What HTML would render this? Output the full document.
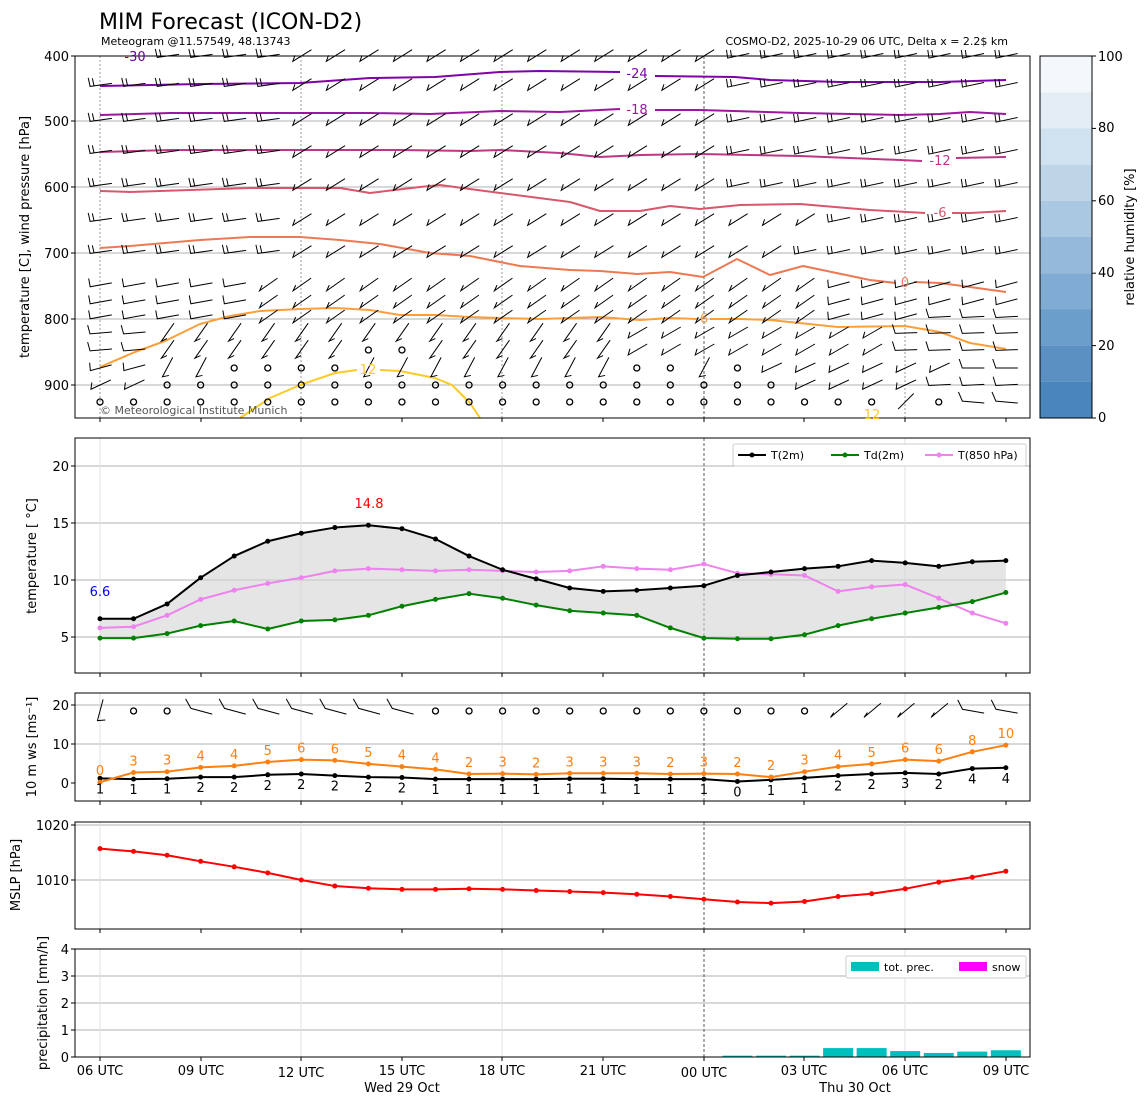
<!DOCTYPE html>
<html><head><meta charset="utf-8"><style>
body{margin:0;background:#fff}
svg{display:block;font-family:"DejaVu Sans","Liberation Sans",sans-serif}
</style></head><body>
<svg id="s" width="1148" height="1105" viewBox="0 0 1148 1105" xmlns="http://www.w3.org/2000/svg">
<rect width="1148" height="1105" fill="#fff"/>
<g id="grid"></g>
<g id="data"></g>
<g fill="none" stroke="#000" stroke-width="1">
<rect x="75" y="56" width="955" height="362"/>
<rect x="75" y="438" width="955" height="235"/>
<rect x="75" y="693" width="955" height="108"/>
<rect x="75" y="822" width="955" height="107"/>
<rect x="75" y="949" width="955" height="108"/>
</g>
<g id="ticks"></g>
<text x="99" y="29" font-size="22">MIM Forecast (ICON-D2)</text>
<text x="101" y="45" font-size="11">Meteogram @11.57549, 48.13743</text>
<text x="1008" y="45" font-size="11" text-anchor="end">COSMO-D2, 2025-10-29 06 UTC, Delta x = 2.2$ km</text>
<text x="100" y="414" font-size="11" fill="#555">© Meteorological Institute Munich</text>
<g font-size="13" text-anchor="end">
<text x="69" y="61">400</text><text x="69" y="126">500</text><text x="69" y="192">600</text><text x="69" y="258">700</text><text x="69" y="324">800</text><text x="69" y="390">900</text>
<text x="69" y="471">20</text><text x="69" y="528">15</text><text x="69" y="585">10</text><text x="69" y="642">5</text>
<text x="69" y="710">20</text><text x="69" y="749">10</text><text x="69" y="788">0</text>
<text x="69" y="830">1020</text><text x="69" y="885">1010</text>
<text x="69" y="954">4</text><text x="69" y="981">3</text><text x="69" y="1008">2</text><text x="69" y="1035">1</text><text x="69" y="1062">0</text>
</g>
<g font-size="13" text-anchor="middle">
<text x="100" y="1075">06 UTC</text><text x="201" y="1075">09 UTC</text><text x="301" y="1077">12 UTC</text><text x="402" y="1075">15 UTC</text><text x="502" y="1075">18 UTC</text><text x="603" y="1075">21 UTC</text><text x="704" y="1077">00 UTC</text><text x="804" y="1075">03 UTC</text><text x="905" y="1075">06 UTC</text><text x="1006" y="1075">09 UTC</text>
<text x="402" y="1092">Wed 29 Oct</text><text x="855" y="1092">Thu 30 Oct</text>
</g>
<g font-size="13" text-anchor="middle">
<text transform="translate(29,237) rotate(-90)">temperature [C], wind pressure [hPa]</text>
<text transform="translate(36,556) rotate(-90)">temperature [ °C]</text>
<text transform="translate(36,747) rotate(-90)">10 m ws [ms⁻¹]</text>
<text transform="translate(20,875) rotate(-90)">MSLP [hPa]</text>
<text transform="translate(47,1003) rotate(-90)">precipitation [mm/h]</text>
<text transform="translate(1134,237) rotate(-90)">relative humidity [%]</text>
</g>
<g id="cb"></g>
<g font-size="13">
<text x="1098" y="422">0</text><text x="1098" y="350">20</text><text x="1098" y="277">40</text><text x="1098" y="205">60</text><text x="1098" y="132">80</text><text x="1098" y="61">100</text>
</g>
<g font-size="13" text-anchor="middle">
<text x="135" y="61" fill="#6a00a8">-30</text>
<text x="637" y="78" fill="#7e03a8">-24</text>
<text x="637" y="114" fill="#9c179e">-18</text>
<text x="940" y="165" fill="#bd3786">-12</text>
<text x="940" y="217" fill="#d8576b">-6</text>
<text x="905" y="287" fill="#ed7953">0</text>
<text x="704" y="323" fill="#fb9f3a">6</text>
<text x="368" y="374" fill="#fdca26">12</text>
<text x="872" y="419" fill="#fdca26">12</text>
</g>
<text x="100" y="596" font-size="13" text-anchor="middle" fill="#00f">6.6</text>
<text x="369" y="508" font-size="13" text-anchor="middle" fill="#f00">14.8</text>
<rect x="733" y="444" width="293" height="22" fill="#fff" stroke="#ccc" rx="2"/>
<g font-size="11">
<line x1="738" y1="455" x2="766" y2="455" stroke="#000" stroke-width="2"/><circle cx="752" cy="455" r="2.5"/><text x="771" y="459">T(2m)</text>
<line x1="831" y1="455" x2="859" y2="455" stroke="#008000" stroke-width="2"/><circle cx="845" cy="455" r="2.5" fill="#008000"/><text x="864" y="459">Td(2m)</text>
<line x1="925" y1="455" x2="953" y2="455" stroke="#ee82ee" stroke-width="2"/><circle cx="939" cy="455" r="2.5" fill="#ee82ee"/><text x="958" y="459">T(850 hPa)</text>
</g>
<rect x="846" y="956" width="180" height="22" fill="#fff" stroke="#ccc" rx="2"/>
<g font-size="11">
<rect x="851" y="962" width="28" height="9" fill="#00bfbf"/><text x="884" y="971">tot. prec.</text>
<rect x="959" y="962" width="28" height="9" fill="#f0f"/><text x="992" y="971">snow</text>
</g>
<g id="wl" font-size="13" text-anchor="middle"></g>
</svg>
<script>
const NS="http://www.w3.org/2000/svg";
function el(p,t,a){const e=document.createElementNS(NS,t);for(const k in a)e.setAttribute(k,a[k]);document.getElementById(p).appendChild(e);return e;}
const X=h=>100+h*33.55;
const xs3=[100,201,301,402,502,603,704,804,905,1006];
const panels=[[56,418],[438,673],[693,801],[822,929],[949,1057]];
const hg=[[121,187,253,319,385],[466,523,580,637],[705,744],[825,880],[976,1003,1030]];
panels.forEach((p,i)=>{
 hg[i].forEach(y=>el('grid','line',{x1:75,x2:1030,y1:y,y2:y,stroke:'#b0b0b0','stroke-width':1}));
 [100,301,502,905].forEach(x=>el('grid','line',{x1:x,x2:x,y1:p[0],y2:p[1],stroke:i==0?'#999':'#e0e0e0','stroke-width':1,'stroke-dasharray':i==0?'2,2':''}));
 el('grid','line',{x1:704,x2:704,y1:p[0],y2:p[1],stroke:'#333','stroke-width':0.8,'stroke-dasharray':'3,2'});
 xs3.forEach(x=>el('ticks','line',{x1:x,x2:x,y1:p[1],y2:p[1]+4,stroke:'#000'}));
 hg[i].concat(i==0?[56]:i==1?[]:i==2?[783]:i==3?[]:[949,1057]).forEach(y=>el('ticks','line',{x1:71,x2:75,y1:y,y2:y,stroke:'#000'}));
});
const cbc=['#4a85bb','#5a91c2','#6c9ecb','#80acd3','#95b9db','#aac8e1','#bed5e8','#d0e1ef','#e4edf6','#f4f8fc'];
cbc.forEach((c,i)=>el('cb','rect',{x:1040,y:418-(i+1)*36.2,width:52,height:36.3,fill:c}));
el('cb','rect',{x:1040,y:56,width:52,height:362,fill:'none',stroke:'#000'});
[0,20,40,60,80,100].forEach(v=>{const y=418-v*3.62;el('cb','line',{x1:1092,x2:1096,y1:y,y2:y,stroke:'#000'})});
function pl(pts,c,w){el('data','polyline',{points:pts.map(p=>p.join(',')).join(' '),fill:'none',stroke:c,'stroke-width':w||2,'stroke-linejoin':'round'});}
pl([[100,86],[200,84],[300,83],[370,78],[435,77],[500,72],[540,71],[620,72]],'#7e03a8');
pl([[655,76],[735,77],[770,80],[840,82],[940,82],[1006,80]],'#7e03a8');
pl([[100,115],[170,113],[370,113],[430,114],[500,111],[560,112],[620,109]],'#9c179e');
pl([[655,110],[700,110],[800,113],[900,115],[940,114],[970,112],[1006,114]],'#9c179e');
pl([[100,152],[170,150],[400,150],[470,151],[500,150],[560,153],[600,157],[640,155],[700,154],[800,156],[900,160],[922,161]],'#bd3786');
pl([[956,158],[1006,157]],'#bd3786');
pl([[100,191],[130,192],[250,188],[340,188],[370,193],[420,187],[440,185],[500,193],[570,202],[600,211],[640,211],[670,206],[700,209],[740,205],[800,204],[870,210],[925,213]],'#d8576b');
pl([[952,213],[970,213],[1006,211]],'#d8576b');
pl([[100,248],[130,246],[200,240],[250,237],[300,237],[340,240],[380,244],[430,253],[470,256],[520,266],[570,270],[600,271],[637,274],[670,272],[703,277],[737,259],[770,275],[803,266],[870,280],[896,283]],'#ed7953');
pl([[914,282],[940,283],[970,287],[1006,292]],'#ed7953');
pl([[100,367],[135,352],[165,341],[200,324],[230,316],[260,311],[300,309],[335,308],[370,310],[400,315],[435,315],[470,317],[500,318],[540,319],[600,317],[640,320],[670,318],[698,319]],'#fb9f3a');
pl([[710,319],[740,319],[770,320],[838,327],[905,326],[940,332],[970,343],[1006,349]],'#fb9f3a');
pl([[240,418],[270,398],[300,385],[335,373],[357,370]],'#fdca26');
pl([[380,370],[400,371],[435,378],[452,385],[470,403],[480,418]],'#fdca26');
const rows=[56,85,120,152,185,220,252,285,302,317,333,350,368,385,402];
function barb(x,y,a,g){const r=a*Math.PI/180,ux=Math.cos(r),uy=Math.sin(r);
 const vx=x-ux*10,vy=y-uy*10;const tx=vx+ux*22,ty=vy+uy*22;
 const px=-uy,py=ux;
 const fx=ux*-0.35+(py>0?px:-px), fy=uy*-0.35+(py>0?-py:py);
 let d=`M${tx},${ty}L${vx},${vy}l${(fx*9).toFixed(1)},${(-Math.abs(fy)*9).toFixed(1)}`;
 if(g>1)d+=`M${vx+ux*4},${vy+uy*4}l${(fx*8).toFixed(1)},${(-Math.abs(fy)*8).toFixed(1)}`;
 el('data','path',{d:d,stroke:'#000','stroke-width':1,fill:'none'});}
function circ(x,y){el('data','circle',{cx:x,cy:y,r:3,fill:'none',stroke:'#000','stroke-width':1.3});}
rows.forEach((y,ri)=>{for(let c=0;c<28;c++){const x=X(c);let a=-30,g=1,calm=false;
 if(ri<=6){ if(c<6)a=-8; else a=-32; if(ri<=4&&c>=19)a=-12; if(ri==6&&c>=21)a=-12; if(ri==5&&c>=22)a=-12; g=(c<6||a==-12)?2:1;}
 else if(ri<=9){a=c<5?-10:-35; if(c>=22)a=-15; if(ri==9&&c>=25)a=-3;}
 else if(ri<=11){a=c<2?-5:(c<16?-55:-30); if(c>=24)a=-2; if(ri==11&&(c==8||c==9))calm=true;}
 else if(ri==12){a=c<2?-15:-62; if(c>=4&&c<=7)calm=true; if(c==16||c==17||c==19)calm=true; if(c>=20)a=-25; if(c>=26)a=0;}
 else if(ri==13){a=-25; if(c>=2&&c<=20)calm=true; if(c>=25)a=-3;}
 else {calm=true; if(c==24){calm=false;a=-45;} if(c>=26){calm=false;a=5;}}
 if(ri==0&&(c<2))continue;
 if(calm)circ(x,y);else barb(x,y,a,g);}});
for(let c=0;c<28;c++){const x=X(c),y=711;
 if([1,2].includes(c)||(c>=10&&c<=21))circ(x,y);
 else{const a=c==0?-75:(c<10?15:(c<26?-40:10));barb(x,y,a,1);}}
function line(id,vals,f,col){const pts=vals.map((v,i)=>[X(i),f(v)]);pl(pts,col,2);pts.forEach(p=>el('data','circle',{cx:p[0],cy:p[1],r:2.5,fill:col}));return pts;}
const T=[6.6,6.6,7.9,10.2,12.1,13.4,14.1,14.6,14.8,14.5,13.6,12.1,10.9,10.1,9.3,9.0,9.1,9.3,9.5,10.4,10.7,11.0,11.2,11.7,11.5,11.2,11.6,11.7];
const Td=[4.9,4.9,5.3,6.0,6.4,5.7,6.4,6.5,6.9,7.7,8.3,8.8,8.4,7.8,7.3,7.1,6.9,5.8,4.9,4.85,4.85,5.2,6.0,6.6,7.1,7.6,8.1,8.9];
const T8=[5.8,5.9,6.9,8.3,9.1,9.7,10.2,10.8,11.0,10.9,10.8,10.9,10.8,10.7,10.8,11.2,11.0,10.9,11.4,10.6,10.5,10.4,9.0,9.4,9.6,8.4,7.1,6.2];
const fT=v=>637-(v-5)*11.4;
const a1=T.map((v,i)=>[X(i),fT(v)]),a2=Td.map((v,i)=>[X(i),fT(v)]).reverse();
el('data','polygon',{points:a1.concat(a2).map(p=>p.join(',')).join(' '),fill:'#d3d3d3','fill-opacity':0.6});
line('d',T8,fT,'#ee82ee');line('d',Td,fT,'#008000');line('d',T,fT,'#000');
const fw=v=>783-v*3.9;
const WS=[0.2,2.7,2.9,4.0,4.4,5.4,6.0,5.8,4.9,4.2,3.5,2.3,2.4,2.2,2.5,2.5,2.5,2.3,2.4,2.3,1.5,2.9,4.2,4.9,6.0,5.6,8.0,9.7];
const WL=[0,3,3,4,4,5,6,6,5,4,4,2,3,2,3,3,3,2,3,2,2,3,4,5,6,6,8,10];
const WB=[1.2,1.0,1.1,1.5,1.5,2.1,2.3,1.9,1.5,1.4,1.0,1.0,1.0,1.0,1.1,1.1,1.0,1.0,1.0,0.4,0.8,1.3,1.9,2.3,2.6,2.3,3.7,3.9];
const BL=[1,1,1,2,2,2,2,2,2,2,1,1,1,1,1,1,1,1,1,0,1,1,2,2,3,2,4,4];
line('d',WB,fw,'#000');line('d',WS,fw,'#ff7f0e');
WS.forEach((v,i)=>{const t=el('wl','text',{x:X(i),y:fw(v)-7,fill:'#ff7f0e'});t.textContent=WL[i];});
WB.forEach((v,i)=>{const t=el('wl','text',{x:X(i),y:fw(v)+15,fill:'#000'});t.textContent=BL[i];});
const P=[1015.7,1015.2,1014.5,1013.4,1012.4,1011.3,1010.0,1008.9,1008.5,1008.3,1008.3,1008.4,1008.3,1008.1,1007.9,1007.7,1007.4,1007.0,1006.5,1006.0,1005.8,1006.1,1007.0,1007.5,1008.4,1009.6,1010.5,1011.6];
line('d',P,v=>880-(v-1010)*5.5,'#f00');
const R=[0.05,0.05,0.05,0.33,0.33,0.22,0.15,0.2,0.25];
R.forEach((r,i)=>{const x=X(19+i);el('data','rect',{x:x-15,y:1057-r*27,width:30,height:r*27,fill:'#00bfbf'});});
</script>
</body></html>
